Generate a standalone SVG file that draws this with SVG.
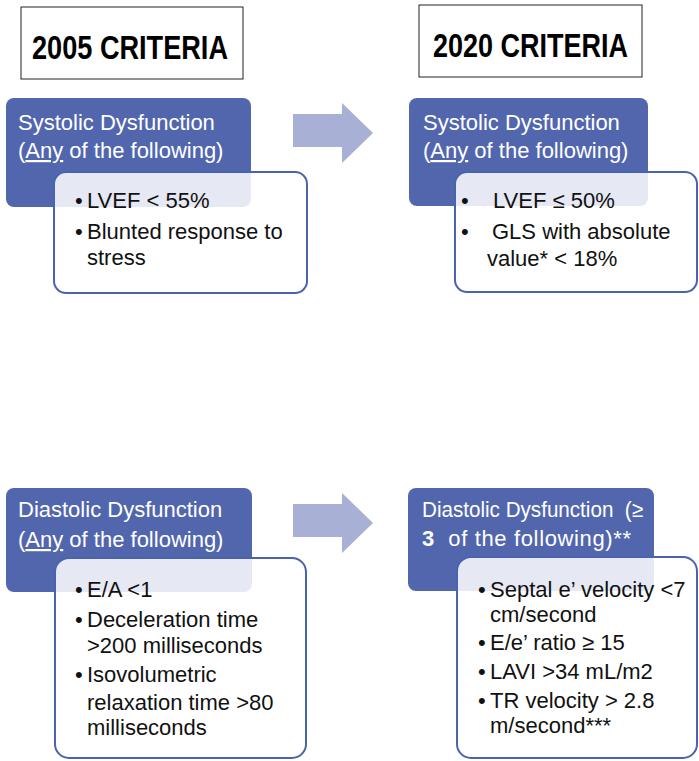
<svg xmlns="http://www.w3.org/2000/svg" width="699" height="761" viewBox="0 0 699 761">
<style>
.title{font-family:"Liberation Sans",Arial,sans-serif;font-weight:bold;font-size:34px;fill:#000}
.tbox{fill:#fff;stroke:#222;stroke-width:1}
.blue{fill:#5266ae}
.white{fill:#fff;fill-opacity:0.86;stroke:#4a63ad;stroke-width:2}
.hd{font-family:"Liberation Sans",Arial,sans-serif;font-size:22px;fill:#fff;white-space:pre}
.bt{font-family:"Liberation Sans",Arial,sans-serif;font-size:22px;fill:#111}
.arrow{fill:#a8b0d5}
</style>
<rect width="699" height="761" fill="#fff"/>
<g id="title-2005">
<rect class="tbox" x="21" y="7" width="222" height="72"/>
<text class="title" x="32" y="59" textLength="196" lengthAdjust="spacingAndGlyphs">2005 CRITERIA</text>
</g>
<g id="title-2020">
<rect class="tbox" x="419" y="5" width="223" height="72"/>
<text class="title" x="433" y="57" textLength="195" lengthAdjust="spacingAndGlyphs">2020 CRITERIA</text>
</g>
<g id="systolic-2005">
<rect class="blue" x="6" y="98" width="245" height="109" rx="8"/>
<text class="hd" x="18" y="130">Systolic Dysfunction</text>
<text class="hd" x="18" y="158">(<tspan text-decoration="underline">Any</tspan> of the following)</text>
<rect class="white" x="54" y="172" width="253" height="121" rx="12"/>
<text class="bt" x="75" y="208">•</text><text class="bt" x="87" y="208">LVEF &lt; 55%</text>
<text class="bt" x="75" y="239">•</text><text class="bt" x="87" y="239">Blunted response to</text>
<text class="bt" x="87" y="265">stress</text>
</g>
<g id="systolic-2020">
<rect class="blue" x="409" y="98" width="239" height="108" rx="8"/>
<text class="hd" x="423" y="130">Systolic Dysfunction</text>
<text class="hd" x="423" y="158">(<tspan text-decoration="underline">Any</tspan> of the following)</text>
<rect class="white" x="455" y="172" width="242" height="120" rx="12"/>
<text class="bt" x="461" y="208">•</text><text class="bt" x="493" y="208">LVEF ≤ 50%</text>
<text class="bt" x="461" y="239">•</text><text class="bt" x="492" y="239">GLS with absolute</text>
<text class="bt" x="487" y="266">value* &lt; 18%</text>
</g>
<g id="diastolic-2005">
<rect class="blue" x="6" y="488" width="246" height="104" rx="8"/>
<text class="hd" x="18" y="517">Diastolic Dysfunction</text>
<text class="hd" x="18" y="547">(<tspan text-decoration="underline">Any</tspan> of the following)</text>
<rect class="white" x="55" y="558" width="251" height="200" rx="14"/>
<text class="bt" x="75" y="597">•</text><text class="bt" x="87" y="597">E/A &lt;1</text>
<text class="bt" x="75" y="627">•</text><text class="bt" x="87" y="627">Deceleration time</text>
<text class="bt" x="87" y="653">&gt;200 milliseconds</text>
<text class="bt" x="75" y="682">•</text><text class="bt" x="87" y="682">Isovolumetric</text>
<text class="bt" x="87" y="710">relaxation time &gt;80</text>
<text class="bt" x="87" y="735">milliseconds</text>
</g>
<g id="diastolic-2020">
<rect class="blue" x="408" y="488" width="246" height="103" rx="8"/>
<text class="hd" x="422" y="517" textLength="221" lengthAdjust="spacingAndGlyphs">Diastolic Dysfunction  (≥</text>
<text class="hd" x="422" y="546" textLength="209" lengthAdjust="spacing"><tspan font-weight="bold">3</tspan>  of the following)**</text>
<rect class="white" x="457" y="557" width="240" height="201" rx="14"/>
<text class="bt" x="478" y="597">•</text><text class="bt" x="490" y="597">Septal e’ velocity &lt;7</text>
<text class="bt" x="490" y="622">cm/second</text>
<text class="bt" x="478" y="650">•</text><text class="bt" x="490" y="650">E/e’ ratio ≥ 15</text>
<text class="bt" x="478" y="679">•</text><text class="bt" x="490" y="679">LAVI &gt;34 mL/m2</text>
<text class="bt" x="478" y="708">•</text><text class="bt" x="490" y="708">TR velocity &gt; 2.8</text>
<text class="bt" x="490" y="733">m/second***</text>
</g>
<g id="connectors">
<polygon class="arrow" points="293,114 342,114 342,103 373,133 342,163 342,147 293,147"/>
<polygon class="arrow" points="293,504 342,504 342,493 373,523 342,553 342,537 293,537"/>
</g>
</svg>
